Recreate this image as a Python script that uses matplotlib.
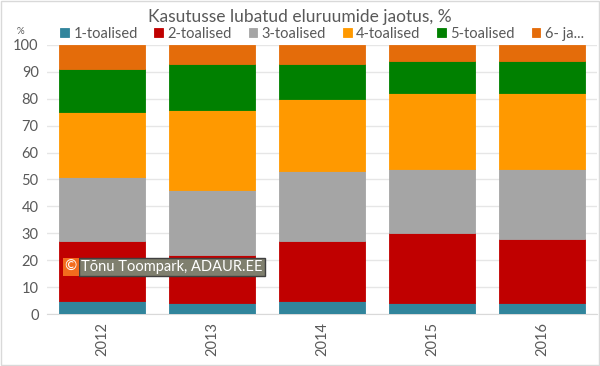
import matplotlib
matplotlib.use("Agg")
import matplotlib.pyplot as plt
import numpy as np

plt.rcParams['font.family'] = ['Lato', 'DejaVu Sans']

years = ["2012", "2013", "2014", "2015", "2016"]
series_names = ["1-toalised", "2-toalised", "3-toalised", "4-toalised", "5-toalised", "6- ja..."]
room1 = [5, 4, 5, 4, 4]
room2 = [22, 18, 22, 26, 24]
room3 = [24, 24, 26, 24, 26]
room4 = [24, 30, 27, 28, 28]
room5 = [16, 17, 13, 12, 12]
room6 = [9, 7, 7, 6, 6]
colors = ["#31859C", "#C00000", "#A5A5A5", "#FF9900", "#008000", "#E46C0A"]

fig = plt.figure(figsize=(6, 3.66), dpi=100)
ax = fig.add_axes([47 / 600, 1 - 314 / 366, 550 / 600, 269 / 366])

x = np.arange(len(years))
bottom = np.zeros(len(years))
for name, vals, col in zip(series_names, [room1, room2, room3, room4, room5, room6], colors):
    ax.bar(x, vals, width=0.79, bottom=bottom, color=col, label=name,
           edgecolor=col, linewidth=0.6, zorder=3)
    bottom += np.array(vals)

ax.set_xlim(-0.5, 4.5)
ax.set_ylim(0, 100)
ax.set_yticks(range(0, 101, 10))
ax.yaxis.grid(True, color="#E6E6E6", linewidth=1, zorder=0)
ax.set_xticks(x)
ax.set_xticklabels(years, rotation=90, fontsize=10.5, color="#595959")
ax.tick_params(axis="y", labelsize=10.5, colors="#595959", length=0, pad=6)
ax.tick_params(axis="x", length=0, pad=6)
for s in ["top", "right", "left"]:
    ax.spines[s].set_visible(False)
ax.spines["bottom"].set_color("#D9D9D9")

fig.text(0.5, 1 - 17 / 366, "Kasutusse lubatud eluruumide jaotus, %", ha="center", va="center",
         fontsize=12.5, color="#595959")
fig.text(20 / 600, 1 - 31 / 366, "%", ha="center", va="center", fontsize=7, color="#595959")

leg = fig.legend(loc="center", bbox_to_anchor=(322 / 600, 1 - 34 / 366), ncol=6, frameon=False,
                 fontsize=10.5, handlelength=0.6, handleheight=0.6, handletextpad=0.3,
                 columnspacing=1.15, borderaxespad=0)
for t in leg.get_texts():
    t.set_color("#595959")

# watermark
ax.text(0.032, 0.175, "©", transform=ax.transAxes, fontsize=10.5, color="white", va="center",
        ha="left", zorder=6,
        bbox=dict(boxstyle="square,pad=0.12", facecolor="#F26B1D", edgecolor="none"))
ax.text(0.062, 0.175, "Tõnu Toompark, ADAUR.EE", transform=ax.transAxes, fontsize=10.5,
        color="white", va="center", ha="left", zorder=5,
        bbox=dict(boxstyle="square,pad=0.15", facecolor="#7F7F6E", edgecolor="#404040", linewidth=1))

border = plt.Rectangle((0.002, 0.003), 0.996, 0.994, transform=fig.transFigure, fill=False,
                       edgecolor="#D9D9D9", linewidth=1)
fig.patches.append(border)

fig.savefig("out.png", dpi=100)
